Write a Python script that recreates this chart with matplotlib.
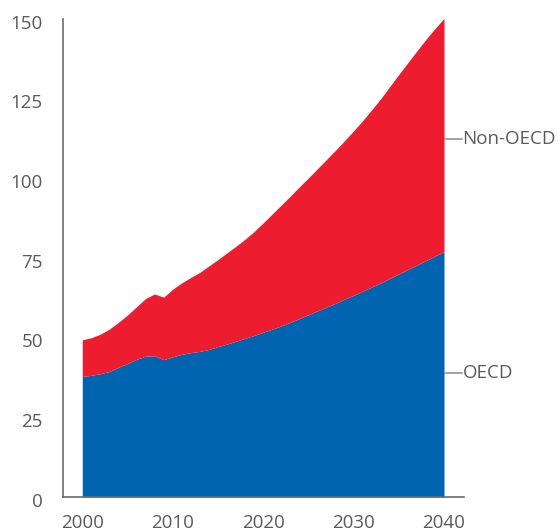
import matplotlib
matplotlib.use("Agg")
import matplotlib.pyplot as plt
import matplotlib.transforms as mtransforms

years = list(range(2000, 2041))
oecd = [37.8, 38.2, 38.7, 39.4, 40.7, 41.9, 43.2, 44.2, 44.3, 43.1,
        44.0, 44.8, 45.3, 45.7, 46.3, 47.2, 48.0, 48.9, 49.8, 50.7,
        51.7, 52.7, 53.7, 54.8, 56.0, 57.2, 58.4, 59.6, 60.8, 62.1,
        63.3, 64.6, 65.9, 67.2, 68.6, 70.0, 71.4, 72.8, 74.2, 75.6,
        77.0]
total = [49.3, 50.0, 51.1, 52.7, 54.8, 57.1, 59.7, 62.3, 63.7, 62.7,
         65.2, 67.2, 68.9, 70.5, 72.5, 74.5, 76.6, 78.7, 80.9, 83.3,
         86.0, 88.8, 91.6, 94.4, 97.3, 100.1, 103.0, 105.9, 108.8, 111.8,
         114.9, 118.1, 121.5, 125.0, 128.8, 132.6, 136.3, 140.0, 143.6, 147.0,
         150.2]
series_labels = ["OECD", "Non-OECD"]
y_ticks = [0, 25, 50, 75, 100, 125, 150]
x_ticks = [2000, 2010, 2020, 2030, 2040]

RED = "#ED1C2E"
BLUE = "#0064B1"
GREY = "#5a5a5a"
AXIS = "#6b6b6b"

plt.rcParams['font.family'] = ['Open Sans', 'DejaVu Sans']

fig = plt.figure(figsize=(5.58, 5.32), dpi=100)
ax = fig.add_axes([63/558, 35/532, (464-63)/558, (497-19)/532])

ax.fill_between(years, 0, oecd, color=BLUE, linewidth=0)
ax.fill_between(years, oecd, total, color=RED, linewidth=0)

ax.set_xlim(1997.87, 2042.21)
ax.set_ylim(0, 150)
ax.set_xticks(x_ticks)
ax.set_yticks(y_ticks)
ax.tick_params(axis='both', length=0, labelsize=13.5, colors=GREY)
ax.tick_params(axis='y', pad=14.5)
ax.tick_params(axis='x', pad=12.5)
for lab in ax.get_yticklabels():
    lab.set_transform(lab.get_transform() + mtransforms.ScaledTranslation(0, -2/72, fig.dpi_scale_trans))

for s in ['top', 'right']:
    ax.spines[s].set_visible(False)
for s in ['left', 'bottom']:
    ax.spines[s].set_color(AXIS)
    ax.spines[s].set_linewidth(1.2)

label_y = {"OECD": 38.9, "Non-OECD": 112.3}
for name in series_labels:
    yv = label_y[name]
    ax.plot([2040.11, 2041.96], [yv, yv], color="#8a8a8a", lw=1.1, clip_on=False)
    ax.text(2042.05, yv, name, color=GREY, fontsize=13.5, va='center', ha='left', clip_on=False)

fig.savefig("out.png", dpi=100)
